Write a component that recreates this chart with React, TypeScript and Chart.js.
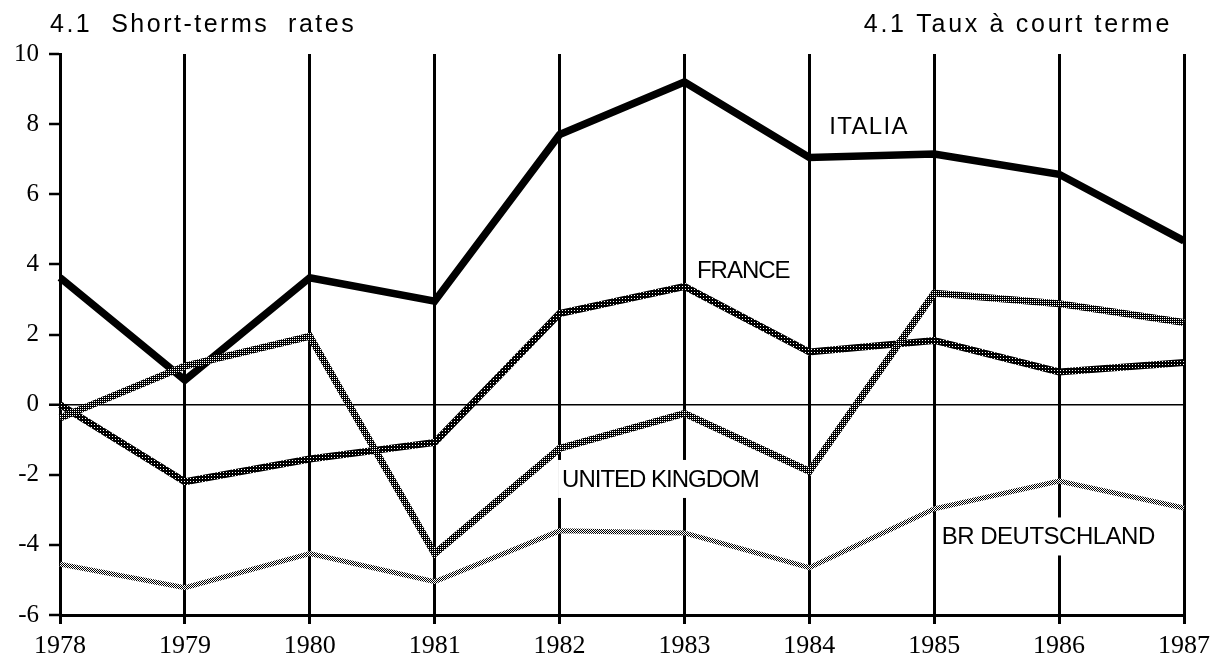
import React, { useEffect, useRef } from "react";
import { Chart, registerables } from "chart.js";

Chart.register(...registerables);

const years = ["1978", "1979", "1980", "1981", "1982", "1983", "1984", "1985", "1986", "1987"];
const italia = [3.62, 0.7, 3.62, 2.95, 7.7, 9.2, 7.05, 7.15, 6.57, 4.67];
const france = [0.0, -2.2, -1.55, -1.08, 2.6, 3.37, 1.5, 1.83, 0.93, 1.2];
const unitedKingdom = [-0.38, 1.1, 1.95, -4.25, -1.25, -0.25, -1.9, 3.18, 2.88, 2.34];
const deutschland = [-4.55, -5.22, -4.25, -5.05, -3.6, -3.66, -4.65, -2.97, -2.18, -2.95];
const yTickValues = [10, 8, 6, 4, 2, 0, -2, -4, -6];

const titleLeft = "4.1  Short-terms  rates";
const titleRight = "4.1 Taux à court terme";
const seriesNames = ["ITALIA", "FRANCE", "UNITED KINGDOM", "BR DEUTSCHLAND"];

function makePattern(size: number, cells: number[][], ink: string) {
  const c = document.createElement("canvas");
  c.width = size;
  c.height = size;
  const g = c.getContext("2d")!;
  g.fillStyle = "#fff";
  g.fillRect(0, 0, size, size);
  g.fillStyle = ink;
  for (let y = 0; y < size; y++) {
    for (let x = 0; x < size; x++) {
      if (cells[y][x]) g.fillRect(x, y, 1, 1);
    }
  }
  return g.createPattern(c, "repeat")!;
}

export default function App() {
  const ref = useRef<HTMLCanvasElement | null>(null);

  useEffect(() => {
    const canvas = ref.current;
    if (!canvas) return;
    const ctx2 = canvas.getContext("2d")!;

    const francePattern = makePattern(3, [[1, 1, 1], [1, 0, 1], [1, 1, 1]], "#000");
    const ukPattern = makePattern(2, [[1, 1], [0, 1]], "#000");
    const dePattern = makePattern(2, [[1, 0], [0, 1]], "#000");

    // label anchors in data space: [x index, y value, letterSpacing]
    const labelAnchors: [number, number, number][] = [
      [6.16, 7.93, 1.3],
      [5.1, 3.82, -1],
      [4.02, -2.12, -1],
      [7.06, -3.76, -0.5],
    ];

    const textPlugin = {
      id: "texts",
      beforeDatasetsDraw(chart: any) {
        const { ctx, scales } = chart;
        ctx.save();
        ctx.font = "24px 'Liberation Sans', Arial, sans-serif";
        ctx.textBaseline = "middle";
        ctx.textAlign = "left";
        seriesNames.forEach((name, i) => {
          const [xi, yv, ls] = labelAnchors[i];
          const x = scales.x.left + (xi / (years.length - 1)) * (scales.x.right - scales.x.left);
          const y = scales.y.getPixelForValue(yv);
          (ctx as any).letterSpacing = ls + "px";
          const w = ctx.measureText(name).width;
          ctx.fillStyle = "#fff";
          ctx.fillRect(x - 4, y - 19, w + 8, 38);
          ctx.fillStyle = "#000";
          ctx.fillText(name, x, y + 1);
        });
        ctx.restore();
      },
      afterDraw(chart: any) {
        const { ctx } = chart;
        ctx.save();
        ctx.font = "25px 'Liberation Sans', Arial, sans-serif";
        ctx.fillStyle = "#000";
        ctx.textBaseline = "alphabetic";
        (ctx as any).letterSpacing = "2.5px";
        ctx.textAlign = "left";
        ctx.fillText(titleLeft, 50, 32);
        (ctx as any).letterSpacing = "2.7px";
        const w = ctx.measureText(titleRight).width;
        ctx.fillText(titleRight, 1172 - w, 32);
        ctx.restore();
      },
    };

    const chart = new Chart(ctx2, {
      type: "line",
      data: {
        labels: years,
        datasets: [
          {
            label: seriesNames[3],
            data: deutschland,
            borderColor: dePattern as any,
            borderWidth: 5,
            pointRadius: 0,
            tension: 0,
          },
          {
            label: seriesNames[2],
            data: unitedKingdom,
            borderColor: ukPattern as any,
            borderWidth: 7,
            pointRadius: 0,
            tension: 0,
          },
          {
            label: seriesNames[1],
            data: france,
            borderColor: francePattern as any,
            borderWidth: 7,
            pointRadius: 0,
            tension: 0,
          },
          {
            label: seriesNames[0],
            data: italia,
            borderColor: "#000",
            borderWidth: 7.5,
            pointRadius: 0,
            tension: 0,
          },
        ],
      },
      options: {
        animation: false,
        responsive: false,
        maintainAspectRatio: false,
        layout: { padding: { top: 54, right: 37, bottom: 0, left: 0 } },
        plugins: {
          legend: { display: false },
          tooltip: { enabled: false },
          title: { display: false },
        },
        scales: {
          x: {
            type: "category",
            offset: false,
            grid: {
              offset: false,
              color: "#000",
              lineWidth: 3,
              drawTicks: true,
              tickLength: 9,
              tickColor: "#000",
              tickWidth: 3,
            },
            border: { display: true, color: "#000", width: 3 },
            ticks: {
              color: "#000",
              font: { family: "'Liberation Serif', 'Times New Roman', serif", size: 26 },
              padding: 7,
              maxRotation: 0,
              autoSkip: false,
            },
            afterFit: (s: any) => {
              s.height = 45;
            },
          },
          y: {
            type: "linear",
            min: -6,
            max: 10,
            afterBuildTicks: (s: any) => {
              s.ticks = yTickValues.map((v) => ({ value: v }));
            },
            ticks: {
              color: "#000",
              font: { family: "'Liberation Serif', 'Times New Roman', serif", size: 25 },
              padding: 10,
            },
            grid: {
              color: (c: any) => (c.tick && c.tick.value === 0 ? "#000" : "rgba(0,0,0,0)"),
              lineWidth: (c: any) => (c.tick && c.tick.value === 0 ? 1.5 : 0),
              drawTicks: true,
              tickLength: 11,
              tickColor: "#000",
              tickWidth: 2.5,
            },
            border: { display: true, color: "#000", width: 3 },
            afterFit: (s: any) => {
              s.width = 60;
            },
          },
        },
      },
      plugins: [textPlugin],
    });

    return () => chart.destroy();
  }, []);

  return (
    <div style={{ position: "absolute", left: 0, top: 0, width: 1221, height: 660, background: "#fff" }}>
      <canvas ref={ref} width={1221} height={660} style={{ display: "block" }} />
    </div>
  );
}
